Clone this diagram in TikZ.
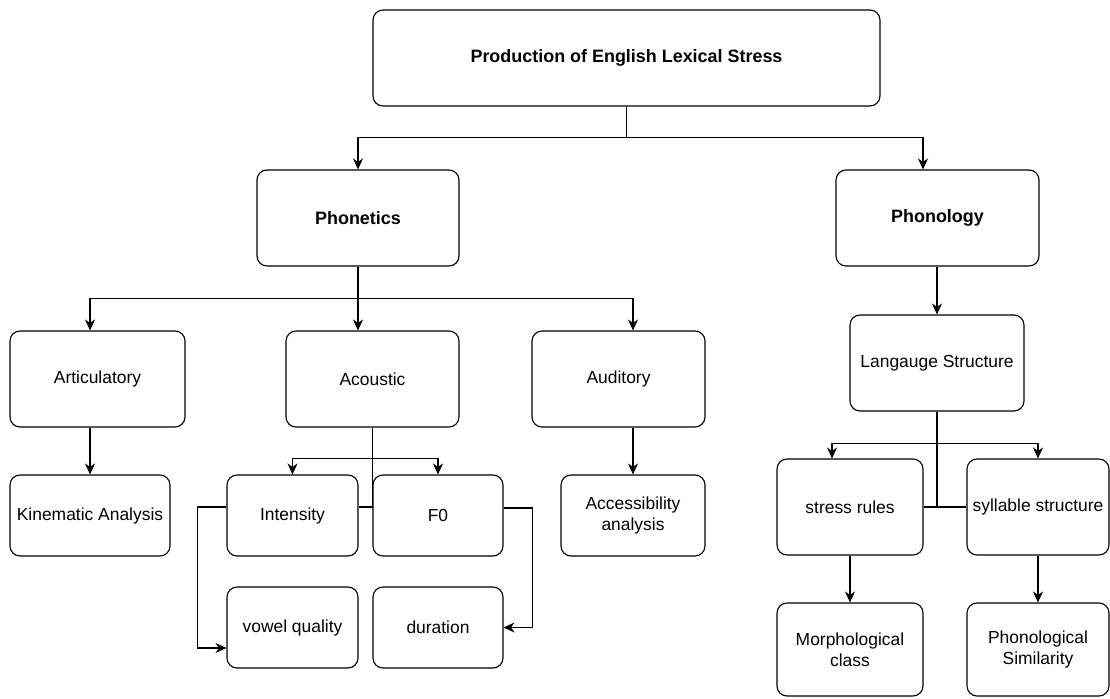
\documentclass[tikz,border=0pt]{standalone}
\usepackage{fontspec}
\setmainfont{Liberation Sans}
\usetikzlibrary{arrows.meta}

\begin{document}
\begin{tikzpicture}[box/.style={draw,rounded corners=10bp,line width=1.1bp,
						align=center,inner sep=0pt,
						font=\fontsize{17.5}{21}\selectfont},
						tall/.style={box,minimum height=96bp},
						short/.style={box,minimum height=81bp},
						head/.style={font=\fontsize{18}{21}\selectfont\bfseries},
						line/.style={draw,line width=1.1bp},
						arrow/.style={line,-{Stealth[length=11bp,width=10bp,inset=3.5bp]}}]

		\useasboundingbox (0bp,0bp) rectangle (1110bp,-699bp);

		% top level
		\node[tall,head,minimum width=507bp] (title) at (626.5bp,-58.0bp) {Production of English Lexical Stress};
		\node[tall,head,minimum width=202bp] (phonetics) at (358.0bp,-218.0bp) {Phonetics};
		\node[tall,head,minimum width=203bp] (phonology) at (937.5bp,-218.0bp) {Phonology};

		% phonetics branch
		\node[tall,minimum width=175bp] (articulatory) at (97.5bp,-379.0bp) {Articulatory};
		\node[tall,minimum width=173bp] (acoustic) at (372.5bp,-379.0bp) {Acoustic};
		\node[tall,minimum width=173bp] (auditory) at (618.5bp,-379.0bp) {Auditory};
		\node[short,minimum width=160bp] (kinematic) at (90.0bp,-515.5bp) {Kinematic Analysis};
		\node[short,minimum width=131bp] (intensity) at (292.5bp,-515.5bp) {Intensity};
		\node[short,minimum width=130bp] (fzero) at (438.0bp,-515.5bp) {F0};
		\node[short,minimum width=131bp] (vowel) at (292.5bp,-627.5bp) {vowel quality};
		\node[short,minimum width=130bp] (duration) at (438.0bp,-627.5bp) {duration};
		\node[short,minimum width=144bp] (access) at (633.0bp,-515.5bp) {Accessibility\\analysis};

		% phonology branch
		\node[tall,minimum width=174bp] (langstruct) at (937.0bp,-363.0bp) {Langauge Structure};
		\node[tall,minimum width=146bp] (stress) at (850.0bp,-507.0bp) {stress rules};
		\node[tall,minimum width=142bp] (syllable) at (1038.0bp,-507.0bp) {syllable structure};
		\node[tall,minimum width=146bp,minimum height=93bp] (morph) at (850.0bp,-649.5bp) {Morphological\\class};
		\node[tall,minimum width=142bp,minimum height=93bp] (phonsim) at (1038.0bp,-649.5bp) {Phonological\\Similarity};

		% connectors
		\draw[arrow] (title.south) -- ++(0bp,-31bp) -| (phonetics.north);
		\draw[arrow] (title.south) -- ++(0bp,-31bp) -| ([xshift=-14.5bp]phonology.north);

		\draw[arrow] (phonetics.south) -- (phonetics.south |- acoustic.north);
		\draw[arrow] (phonetics.south) -- ++(0bp,-32bp) -| (kinematic.north |- articulatory.north);
		\draw[arrow] (phonetics.south) -- ++(0bp,-32bp) -| (access.north |- auditory.north);

		\draw[arrow] (articulatory.south -| kinematic.north) -- (kinematic.north);
		\draw[arrow] (auditory.south -| access.north) -- (access.north);

		\draw[arrow] (acoustic.south) -- ++(0bp,-31bp) -| (intensity.north);
		\draw[arrow] (acoustic.south) -- ++(0bp,-31bp) -| (fzero.north);
		\draw[line] (acoustic.south) |- ([yshift=8.5bp]intensity.east);
		\draw[arrow] ([yshift=8.5bp]intensity.west) -- ++(-29bp,0bp) |- ([yshift=-20.5bp]vowel.west);
		\draw[arrow] ([yshift=7.5bp]fzero.east) -- ++(29bp,0bp) |- (duration.east);

		\draw[arrow] (phonology.south -| langstruct.north) -- (langstruct.north);
		\draw[arrow] (langstruct.south) -- ++(0bp,-32bp) -| ([xshift=-18bp]stress.north);
		\draw[arrow] (langstruct.south) -- ++(0bp,-32bp) -| (syllable.north);
		\draw[line] (langstruct.south) |- (stress.east);
		\draw[line] (langstruct.south) |- (syllable.west);
		\draw[arrow] (stress.south) -- (morph.north);
		\draw[arrow] (syllable.south) -- (phonsim.north);

	\end{tikzpicture}
\end{document}
